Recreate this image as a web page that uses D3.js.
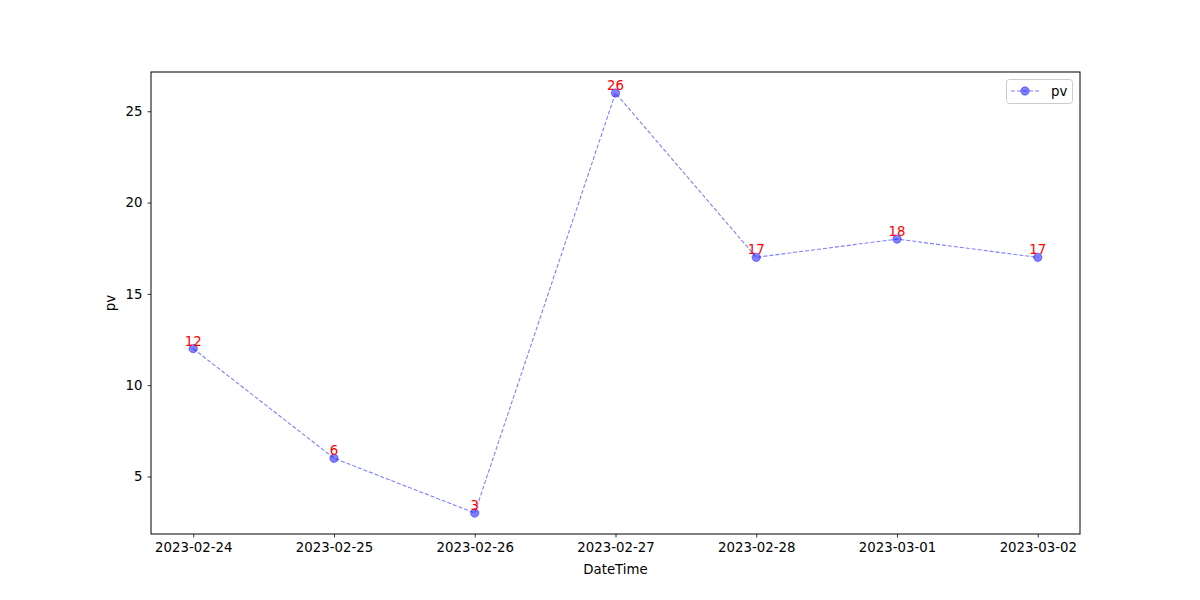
<!DOCTYPE html>
<html><head><meta charset="utf-8">
<script src="https://cdn.jsdelivr.net/npm/d3@7"></script>
<style>body{margin:0;background:#fff;} text{font-family:"DejaVu Sans",sans-serif;}</style>
</head><body>
<svg id="c" width="1200" height="600"></svg>
<script>
const dates = ["2023-02-24","2023-02-25","2023-02-26","2023-02-27","2023-02-28","2023-03-01","2023-03-02"];
const pv = [12, 6, 3, 26, 17, 18, 17];
const yTicks = [5, 10, 15, 20, 25];
const seriesName = "pv";

const svg = d3.select("#c");
const L = 151, R = 1080, T = 72, B = 534;
const parse = d3.utcParse("%Y-%m-%d");
const data = dates.map((d, i) => ({d: parse(d), v: pv[i], label: d}));
const x0 = data[0].d, x1 = data[data.length-1].d;
const span = x1 - x0;
const x = d3.scaleUtc().domain([new Date(+x0 - span*0.05), new Date(+x1 + span*0.05)]).range([L, R]);
const ymin = d3.min(pv), ymax = d3.max(pv), yr = ymax - ymin;
const y = d3.scaleLinear().domain([ymin - yr*0.05, ymax + yr*0.05]).range([B, T]);

// axes
const xAxis = d3.axisBottom(x).tickValues(data.map(d => d.d)).tickFormat(d3.utcFormat("%Y-%m-%d")).tickSize(3.5).tickPadding(5);
const gx = svg.append("g").attr("transform", `translate(0,${B})`).call(xAxis);
const yAxis = d3.axisLeft(y).tickValues(yTicks).tickSize(3.5).tickPadding(5);
const gy = svg.append("g").attr("transform", `translate(${L},0)`).call(yAxis);
[gx, gy].forEach(g => {
  g.select(".domain").remove();
  g.selectAll("text").attr("font-size", "13.3px").attr("fill", "#000").attr("font-family", "DejaVu Sans");
  g.selectAll("line").attr("stroke", "#000").attr("stroke-width", 0.8);
});

// frame
svg.append("rect").attr("x", L).attr("y", T).attr("width", R-L).attr("height", B-T)
  .attr("fill", "none").attr("stroke", "#000").attr("stroke-width", 1);

// axis labels
svg.append("text").attr("x", (L+R)/2).attr("y", 574).attr("text-anchor", "middle")
  .attr("font-size", "13.3px").text("DateTime");
svg.append("text").attr("transform", `translate(115,${(T+B)/2}) rotate(-90)`).attr("text-anchor", "middle")
  .attr("font-size", "13.3px").text("pv");

// line
const line = d3.line().x(d => x(d.d)).y(d => y(d.v));
svg.append("path").datum(data).attr("d", line).attr("fill", "none")
  .attr("stroke", "blue").attr("stroke-opacity", 0.5).attr("stroke-width", 1.1)
  .attr("stroke-dasharray", "4,2");
svg.selectAll("circle.pt").data(data).enter().append("circle").attr("class", "pt")
  .attr("cx", d => x(d.d)).attr("cy", d => y(d.v)).attr("r", 4.2)
  .attr("fill", "blue").attr("fill-opacity", 0.5).attr("stroke", "blue").attr("stroke-opacity", 0.5).attr("stroke-width", 0.8);

// labels
svg.selectAll("text.lab").data(data).enter().append("text").attr("class", "lab")
  .attr("x", d => x(d.d)).attr("y", d => y(d.v) - 3).attr("text-anchor", "middle")
  .attr("fill", "red").attr("font-size", "13.3px").text(d => d.v);

// legend
const lg = svg.append("g");
lg.append("rect").attr("x", 1006.5).attr("y", 79.5).attr("width", 66).attr("height", 24).attr("rx", 3)
  .attr("fill", "#fff").attr("fill-opacity", 0.8).attr("stroke", "#ccc");
lg.append("line").attr("x1", 1011).attr("x2", 1039).attr("y1", 91).attr("y2", 91)
  .attr("stroke", "blue").attr("stroke-opacity", 0.5).attr("stroke-width", 1.1).attr("stroke-dasharray", "4,2");
lg.append("circle").attr("cx", 1025).attr("cy", 91).attr("r", 4.2)
  .attr("fill", "blue").attr("fill-opacity", 0.5).attr("stroke", "blue").attr("stroke-opacity", 0.5).attr("stroke-width", 0.8);
lg.append("text").attr("x", 1051).attr("y", 96).attr("font-size", "13.3px").text(seriesName);
</script>
</body></html>
